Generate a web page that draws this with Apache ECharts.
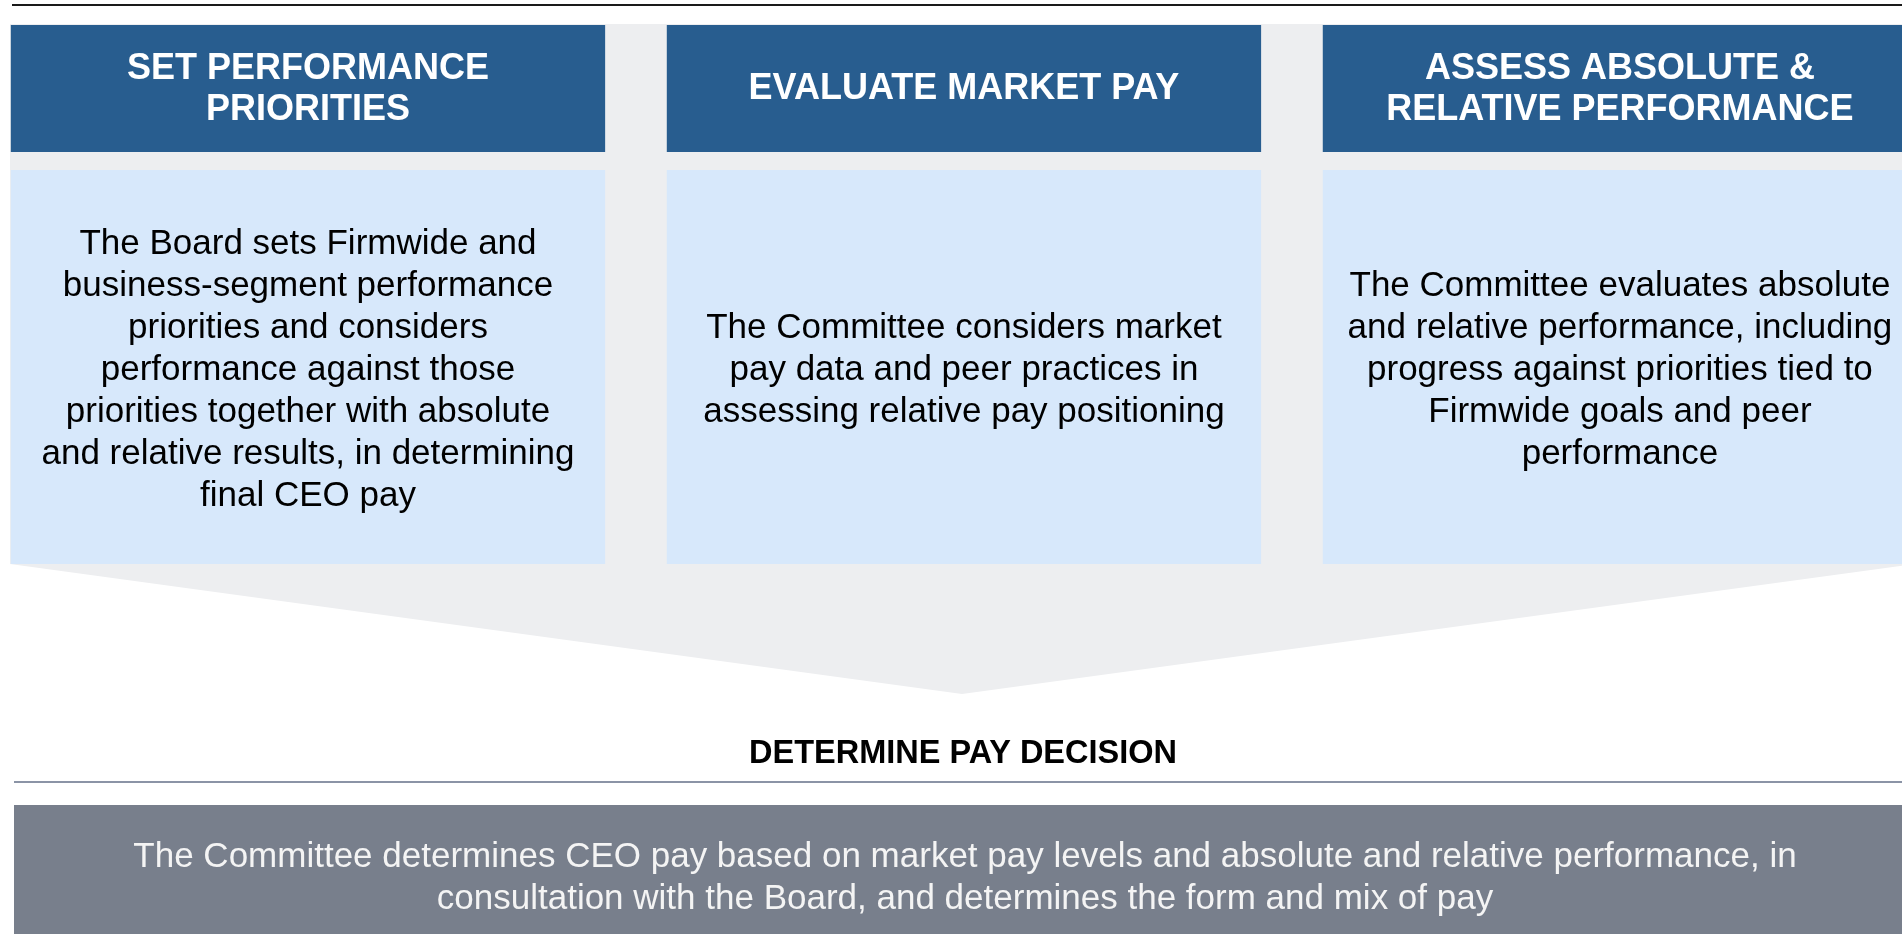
<!DOCTYPE html>
<html>
<head>
<meta charset="utf-8">
<script src="https://cdn.jsdelivr.net/npm/echarts@6/dist/echarts.min.js"></script>
<style>
  html, body { margin: 0; padding: 0; background: #fff; }
  #chart { width: 1902px; height: 934px; }
</style>
</head>
<body>
<div id="chart"></div>
<script>
// stages of the pay process (one column each)
var stageTitles = [
  "SET PERFORMANCE\nPRIORITIES",
  "EVALUATE MARKET PAY",
  "ASSESS ABSOLUTE &\nRELATIVE PERFORMANCE"
];
var stageTexts = [
  "The Board sets Firmwide and\nbusiness-segment performance\npriorities and considers\nperformance against those\npriorities together with absolute\nand relative results, in determining\nfinal CEO pay",
  "The Committee considers market\npay data and peer practices in\nassessing relative pay positioning",
  "The Committee evaluates absolute\nand relative performance, including\nprogress against priorities tied to\nFirmwide goals and peer\nperformance"
];
var decisionTitle = "DETERMINE PAY DECISION";
var decisionText = "The Committee determines CEO pay based on market pay levels and absolute and relative performance, in\nconsultation with the Board, and determines the form and mix of pay";

var FONT = '"Liberation Sans", Arial, sans-serif';

var chart = echarts.init(document.getElementById("chart"));

var option = {
  animation: false,
  backgroundColor: "#fff",
  grid: { left: 0, right: 0, top: 0, bottom: 0 },
  // stage index axis, third column runs off the right edge
  xAxis: { type: "value", min: -0.4695, max: 2.43, show: false },
  yAxis: { type: "value", min: 0, max: 1, show: false },
  graphic: [
    // top rule
    {
      type: "line",
      shape: { x1: 12, y1: 5, x2: 1902, y2: 5 },
      style: { stroke: "#1a1a1a", lineWidth: 2 }
    },
    // grey backdrop with chevron
    {
      type: "polygon",
      z: -1,
      shape: { points: [[10, 24], [1914, 24], [1914, 564], [962, 694], [10, 564]] },
      style: { fill: "#edeef0" }
    },
    {
      type: "text",
      x: 963,
      y: 754,
      style: {
        text: decisionTitle,
        font: "bold 32.5px " + FONT,
        fill: "#000",
        align: "center",
        verticalAlign: "middle"
      }
    },
    {
      type: "line",
      shape: { x1: 14, y1: 782, x2: 1902, y2: 782 },
      style: { stroke: "#8b94a6", lineWidth: 2 }
    },
    {
      type: "rect",
      shape: { x: 14, y: 805, width: 1900, height: 140 },
      style: { fill: "#787f8c" }
    },
    {
      type: "text",
      x: 965,
      y: 878,
      style: {
        text: decisionText,
        font: "35px " + FONT,
        fill: "#f4f4f4",
        align: "center",
        verticalAlign: "middle",
        lineHeight: 42
      }
    }
  ],
  series: [
    {
      type: "custom",
      clip: false,
      data: stageTitles.map(function (t, i) { return [i, 0]; }),
      renderItem: function (params, api) {
        var i = api.value(0);
        var cx = api.coord([i, 0])[0];
        var band = api.size([1, 0])[0];
        var w = band * 0.906;
        return {
          type: "group",
          children: [
            {
              type: "rect",
              shape: { x: cx - w / 2, y: 25, width: w, height: 127 },
              style: { fill: "#285d8f" }
            },
            {
              type: "text",
              x: cx,
              y: 89.5,
              style: {
                text: stageTitles[i],
                font: "bold 36px " + FONT,
                fill: "#fff",
                align: "center",
                verticalAlign: "middle",
                lineHeight: 41
              }
            },
            {
              type: "rect",
              shape: { x: cx - w / 2, y: 170, width: w, height: 394 },
              style: { fill: "#d7e8fb" }
            },
            {
              type: "text",
              x: cx,
              y: 370,
              style: {
                text: stageTexts[i],
                font: "35px " + FONT,
                fill: "#000",
                align: "center",
                verticalAlign: "middle",
                lineHeight: 42
              }
            }
          ]
        };
      }
    }
  ]
};

chart.setOption(option);
window.addEventListener("resize", function () {
  chart.resize();
});
</script>
</body>
</html>
